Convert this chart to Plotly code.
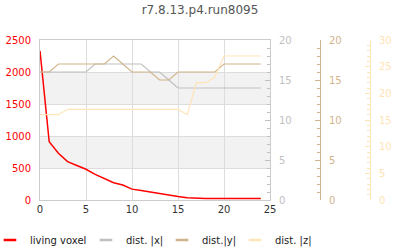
import plotly.graph_objects as go

steps = list(range(25))
living_voxel = [2330, 910, 730, 600, 540, 480, 400, 330, 270, 235, 170, 150, 125, 95,
                70, 55, 35, 25, 25, 25, 25, 25, 25, 25, 25]
dist_x = [16, 16, 16, 16, 16, 16, 17, 17, 17, 17, 17, 17, 16, 16, 15, 14, 14, 14, 14, 14,
          14, 14, 14, 14, 14]
dist_y = [16, 16, 17, 17, 17, 17, 17, 17, 18, 17, 16, 16, 16, 15, 15, 16, 16, 16, 16, 16,
          17, 17, 17, 17, 17]
dist_z = [16, 16, 16, 17, 17, 17, 17, 17, 17, 17, 17, 17, 17, 17, 17, 17, 16, 22, 22, 23,
          27, 27, 27, 27, 27]

names = ["living voxel", "dist. |x|", "dist.|y|", "dist. |z|"]
colors = ["#ff0000", "#c0c0c0", "#d2b48c", "#ffe4b5"]
title = "r7.8.13.p4.run8095"

FONT = "DejaVu Sans"
fig = go.Figure()
series = [living_voxel, dist_x, dist_y, dist_z]
yaxes = ["y", "y2", "y3", "y4"]
widths = [1.5, 1.2, 1.2, 1.2]
for s, ya, c, w in zip(series, yaxes, colors, widths):
    fig.add_trace(go.Scatter(x=steps, y=s, yaxis=ya, mode="lines",
                             line=dict(color=c, width=w), showlegend=False))

# one small legend per entry, short line symbols
legend_ids = ["legend", "legend2", "legend3", "legend4"]
legend_x = [-0.139, 0.1277, 0.3388, 0.5416]
for n, c, lid in zip(names, colors, legend_ids):
    fig.add_trace(go.Scatter(x=[None], y=[None], mode="markers", name=n, legend=lid,
                             marker=dict(symbol="line-ew", size=9,
                                         line=dict(color=c, width=2.5))))

# alternating grey bands
for lo, hi in [(500, 1000), (1500, 2000)]:
    fig.add_shape(type="rect", xref="x domain", yref="y", x0=0, x1=1, y0=lo, y1=hi,
                  fillcolor="#f2f2f2", line_width=0, layer="below")

legend_style = dict(orientation="h", xanchor="left", y=-0.25, yanchor="middle",
                    font=dict(size=10, color="#222"), itemwidth=30,
                    bgcolor="rgba(0,0,0,0)")
legends = {lid: dict(x=lx, **legend_style) for lid, lx in zip(legend_ids, legend_x)}

fig.update_layout(
    width=400, height=250,
    margin=dict(l=40, r=0, t=40, b=50, autoexpand=False),
    paper_bgcolor="white", plot_bgcolor="white",
    font=dict(family=FONT, size=10, color="#333"),
    title=dict(text=title, x=0.5, xanchor="center", y=0.96, yanchor="middle",
               font=dict(size=12, color="#555")),
    xaxis=dict(domain=[0, 230 / 360], range=[0, 25], dtick=5, showgrid=True,
               gridcolor="#dddddd", showline=True, linecolor="#cccccc", mirror=True,
               zeroline=False, tickfont=dict(color="#333"), automargin=False),
    yaxis=dict(range=[0, 2500], dtick=500, showgrid=True, gridcolor="#dddddd",
               showline=True, linecolor="#cccccc", mirror=True, zeroline=False,
               tickfont=dict(color="#ff0000"), ticklabelstandoff=6, automargin=False),
    yaxis2=dict(overlaying="y", anchor="x", side="right", range=[0, 20], dtick=5,
                showgrid=False, zeroline=False, showline=True, linecolor="#cccccc",
                ticks="inside", ticklen=5, tickcolor="#c0c0c0",
                minor=dict(ticks="inside", ticklen=3, dtick=1, tickcolor="#c0c0c0"),
                tickfont=dict(color="#c0c0c0"), ticklabelstandoff=6, automargin=False),
    yaxis3=dict(overlaying="y", anchor="free", side="right", position=280 / 360,
                range=[0, 20], dtick=5, showgrid=False, zeroline=False, showline=True,
                linecolor="#d2b48c", ticks="inside", ticklen=5, tickcolor="#d2b48c",
                minor=dict(ticks="inside", ticklen=3, dtick=1, tickcolor="#d2b48c"),
                tickfont=dict(color="#d2b48c"), ticklabelstandoff=6, automargin=False),
    yaxis4=dict(overlaying="y", anchor="free", side="right", position=330 / 360,
                range=[0, 30], dtick=5, showgrid=False, zeroline=False, showline=True,
                linecolor="#ffe4b5", ticks="inside", ticklen=5, tickcolor="#ffe4b5",
                minor=dict(ticks="inside", ticklen=3, dtick=1, tickcolor="#ffe4b5"),
                tickfont=dict(color="#ffe4b5"), ticklabelstandoff=6, automargin=False),
    **legends,
)

fig.write_html("out.html")
